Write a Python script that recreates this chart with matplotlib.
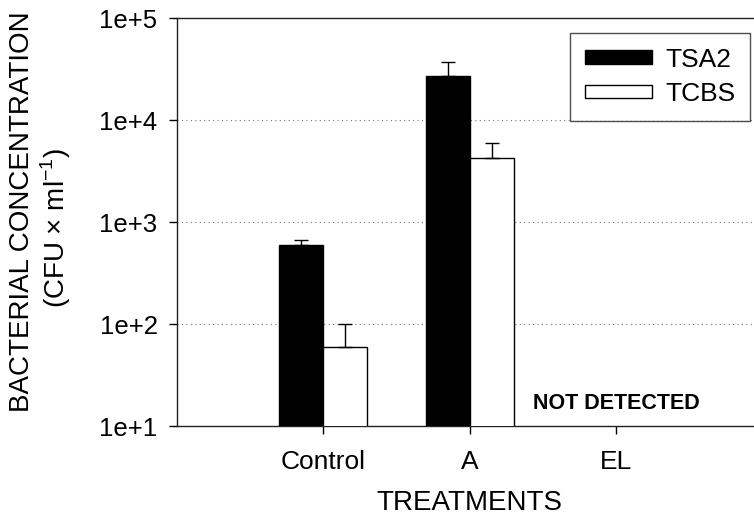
import numpy as np
import matplotlib
matplotlib.use('Agg')
import matplotlib.pyplot as plt
from matplotlib.ticker import FixedLocator, FuncFormatter, NullLocator

plt.rcParams['font.family'] = ['Liberation Sans', 'DejaVu Sans']

treatments = ['Control', 'A', 'EL']
tsa2 = [590, 27000, np.nan]
tsa2_err = [80, 10000, np.nan]
tcbs = [60, 4200, np.nan]
tcbs_err = [40, 1700, np.nan]

fig = plt.figure(figsize=(7.54, 5.21), dpi=100)
ax = fig.add_axes([177/754, 1-426/521, (762.5-177)/754, 408/521])

x = np.arange(len(treatments))
w = 0.3
ax.bar(x - w/2, tsa2, w, color='black', edgecolor='black', linewidth=1, label='TSA2', zorder=3)
ax.bar(x + w/2, tcbs, w, color='white', edgecolor='black', linewidth=1, label='TCBS', zorder=3)
ax.errorbar(x - w/2, tsa2, yerr=[np.zeros(3), tsa2_err], fmt='none', ecolor='black',
            elinewidth=1, capsize=5, capthick=1, zorder=4)
ax.errorbar(x + w/2, tcbs, yerr=[np.zeros(3), tcbs_err], fmt='none', ecolor='black',
            elinewidth=1, capsize=5, capthick=1, zorder=4)

ax.set_yscale('log')
ax.set_ylim(10, 1e5)
ax.set_xlim(-1, 3)
ax.yaxis.set_major_locator(FixedLocator([1e1, 1e2, 1e3, 1e4, 1e5]))
ax.yaxis.set_minor_locator(NullLocator())
ax.yaxis.set_major_formatter(FuncFormatter(lambda v, p: '1e+%d' % round(np.log10(v))))
ax.set_xticks(x)
ax.set_xticklabels(treatments)

for yv in [1e2, 1e3, 1e4]:
    ax.axhline(yv, color='#777777', linestyle=(0, (1, 3)), linewidth=0.8, zorder=1)

ax.tick_params(axis='y', direction='out', length=6, width=1, pad=8, labelsize=18.5)
ax.tick_params(axis='x', direction='out', length=6, width=1, pad=11, labelsize=19)
for s in ax.spines.values():
    s.set_linewidth(1)
    s.set_color('#222222')

ax.text(2, 13, 'NOT DETECTED', ha='center', va='bottom', fontsize=15.5, fontweight='bold')

ax.set_xlabel('TREATMENTS', fontsize=20, labelpad=12)
fig.text(22/754, 1-212/521, 'BACTERIAL CONCENTRATION', rotation=90, ha='center', va='center', fontsize=20)
fig.text(56/754, 1-228/521, '(CFU × ml$^{\\mathregular{-1}}$)', rotation=90, ha='center', va='center', fontsize=20)

leg = ax.legend(loc='upper right', bbox_to_anchor=(750/754, 1-33/521), bbox_transform=fig.transFigure,
                borderaxespad=0, fontsize=19, frameon=True, fancybox=False, edgecolor='#222222',
                handlelength=2.55, handleheight=0.42, labelspacing=0.4, borderpad=0.55, handletextpad=0.5)
leg.get_frame().set_linewidth(1)

fig.savefig('out.png', dpi=100)
